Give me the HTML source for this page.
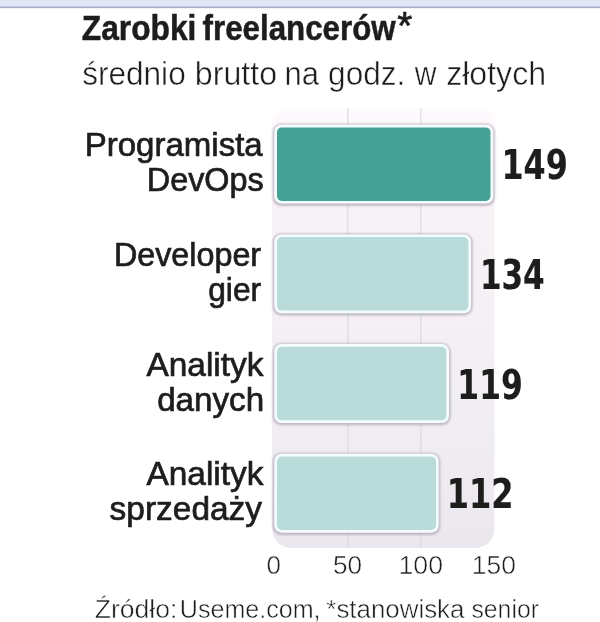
<!DOCTYPE html>
<html lang="pl"><head><meta charset="utf-8"><title>Zarobki freelancerów</title>
<style>
html,body{margin:0;padding:0;background:#fff;}
body{width:600px;height:622px;overflow:hidden;position:relative;font-family:"Liberation Sans",sans-serif;}
svg{position:absolute;left:0;top:0;display:block;}
text{font-family:"Liberation Sans",sans-serif;fill:#1d1d1b;}
.b{font-weight:bold;stroke:#1d1d1b;stroke-width:0.5px;}
.m{stroke:#1d1d1b;stroke-width:0.7px;}
.l{stroke:#ffffff;stroke-width:0.5px;}
.v{font-family:"DejaVu Sans Condensed","DejaVu Sans","Liberation Sans",sans-serif;font-weight:bold;stroke:#1d1d1b;stroke-width:0.15px;}
.ast{font-weight:normal;stroke:#1d1d1b;stroke-width:0.7px;}
</style></head><body>
<svg width="600" height="622" viewBox="0 0 600 622">
<defs>
<filter id="sh" x="-5%" y="-10%" width="110%" height="125%"><feGaussianBlur stdDeviation="1.3"/></filter>
<linearGradient id="pg" x1="0" y1="0" x2="0" y2="1"><stop offset="0" stop-color="#fef9fc"/><stop offset="0.25" stop-color="#f7f2f6"/><stop offset="0.75" stop-color="#f0edf2"/><stop offset="1" stop-color="#ebe7ee"/></linearGradient>
</defs>
<rect x="0" y="0" width="600" height="622" fill="#ffffff"/>
<rect x="0" y="0" width="600" height="7" fill="#e0e6f6"/>
<rect x="0" y="6.5" width="600" height="1.5" fill="#a9afc8"/>
<rect x="0" y="8" width="600" height="1" fill="#f1f3f8"/>
<path d="M272 123 Q272 109 286 109 H480.5 Q494.5 109 494.5 123 V526 Q494.5 548 472.5 548 H294 Q272 548 272 526 Z" fill="url(#pg)"/>
<rect x="347.2" y="108" width="1.2" height="440" fill="#dcd9df"/>
<rect x="420.2" y="108" width="1.2" height="440" fill="#dcd9df"/>
<rect x="272.7" y="123.8" width="222.1" height="82.1" rx="8.5" fill="#a89dad" opacity="0.65" filter="url(#sh)"/>
<rect x="274.3" y="124.7" width="218.9" height="78.9" rx="7.2" fill="#f4fdfd"/>
<rect x="277.0" y="127.4" width="213.5" height="73.5" rx="4.8" fill="#45a096"/>
<rect x="272.7" y="233.5" width="200.0" height="82.1" rx="8.5" fill="#a89dad" opacity="0.65" filter="url(#sh)"/>
<rect x="274.3" y="234.4" width="196.8" height="78.9" rx="7.2" fill="#f4fdfd"/>
<rect x="277.0" y="237.1" width="191.4" height="73.5" rx="4.8" fill="#b9dbda"/>
<rect x="272.7" y="343.2" width="177.9" height="82.1" rx="8.5" fill="#a89dad" opacity="0.65" filter="url(#sh)"/>
<rect x="274.3" y="344.1" width="174.7" height="78.9" rx="7.2" fill="#f4fdfd"/>
<rect x="277.0" y="346.8" width="169.3" height="73.5" rx="4.8" fill="#b9dbda"/>
<rect x="272.7" y="452.9" width="167.6" height="82.1" rx="8.5" fill="#a89dad" opacity="0.65" filter="url(#sh)"/>
<rect x="274.3" y="453.8" width="164.4" height="78.9" rx="7.2" fill="#f4fdfd"/>
<rect x="277.0" y="456.5" width="159.0" height="73.5" rx="4.8" fill="#b9dbda"/>
<text class="b" y="39.8" font-size="34.5"><tspan x="81.78" textLength="114.59" lengthAdjust="spacingAndGlyphs">Zarobki</tspan> <tspan x="202.55" textLength="193.12" lengthAdjust="spacingAndGlyphs">freelancerów</tspan><tspan class="ast" x="397.3" dy="-0.6" font-size="38.5">*</tspan></text>
<text class="l" y="84.8" font-size="34"><tspan x="82.19" textLength="103.50" lengthAdjust="spacingAndGlyphs">średnio</tspan> <tspan x="194.79" textLength="82.28" lengthAdjust="spacingAndGlyphs">brutto</tspan> <tspan x="284.55" textLength="34.50" lengthAdjust="spacingAndGlyphs">na</tspan> <tspan x="328.12" textLength="77.21" lengthAdjust="spacingAndGlyphs">godz.</tspan> <tspan x="414.81" textLength="21.72" lengthAdjust="spacingAndGlyphs">w</tspan> <tspan x="446.20" textLength="99.87" lengthAdjust="spacingAndGlyphs">złotych</tspan></text>
<text class="m" x="84.69" y="156.2" font-size="33.3" textLength="178.00" lengthAdjust="spacingAndGlyphs">Programista</text>
<text class="m" x="146.74" y="191.1" font-size="33.3" textLength="117.04" lengthAdjust="spacingAndGlyphs">DevOps</text>
<text class="m" x="113.95" y="265.9" font-size="33.3" textLength="147.17" lengthAdjust="spacingAndGlyphs">Developer</text>
<text class="m" x="208.19" y="300.8" font-size="33.3" textLength="52.94" lengthAdjust="spacingAndGlyphs">gier</text>
<text class="m" x="146.50" y="375.6" font-size="33.3" textLength="116.92" lengthAdjust="spacingAndGlyphs">Analityk</text>
<text class="m" x="157.13" y="410.5" font-size="33.3" textLength="106.96" lengthAdjust="spacingAndGlyphs">danych</text>
<text class="m" x="146.50" y="485.3" font-size="33.3" textLength="116.92" lengthAdjust="spacingAndGlyphs">Analityk</text>
<text class="m" x="109.62" y="520.2" font-size="33.3" textLength="152.42" lengthAdjust="spacingAndGlyphs">sprzedaży</text>
<text class="v" x="501.50" y="179.4" font-size="40.4" textLength="66.33" lengthAdjust="spacingAndGlyphs">149</text>
<text class="v" x="479.88" y="289.0" font-size="40.4" textLength="64.87" lengthAdjust="spacingAndGlyphs">134</text>
<text class="v" x="457.35" y="398.6" font-size="40.4" textLength="65.46" lengthAdjust="spacingAndGlyphs">119</text>
<text class="v" x="446.77" y="508.2" font-size="40.4" textLength="66.84" lengthAdjust="spacingAndGlyphs">112</text>
<text class="l" x="266.49" y="573.5" font-size="25.7" textLength="14.46" lengthAdjust="spacingAndGlyphs">0</text>
<text class="l" x="332.98" y="573.5" font-size="25.7" textLength="29.12" lengthAdjust="spacingAndGlyphs">50</text>
<text class="l" x="398.56" y="573.5" font-size="25.7" textLength="44.43" lengthAdjust="spacingAndGlyphs">100</text>
<text class="l" x="471.87" y="573.5" font-size="25.7" textLength="44.11" lengthAdjust="spacingAndGlyphs">150</text>
<text class="l" y="617.5" font-size="26.5"><tspan x="94.75" textLength="82.61" lengthAdjust="spacingAndGlyphs">Źródło:</tspan> <tspan x="179.81" textLength="140.72" lengthAdjust="spacingAndGlyphs">Useme.com,</tspan> <tspan x="326.33" textLength="138.09" lengthAdjust="spacingAndGlyphs">*stanowiska</tspan> <tspan x="471.41" textLength="67.57" lengthAdjust="spacingAndGlyphs">senior</tspan></text>
</svg>
</body></html>
